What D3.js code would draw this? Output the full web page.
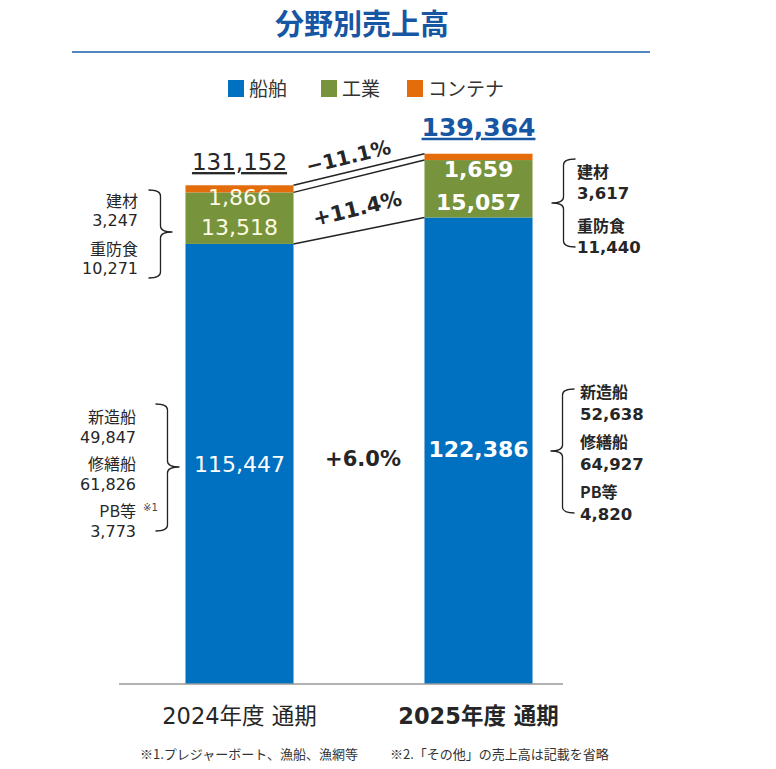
<!DOCTYPE html>
<html lang="ja">
<head>
<meta charset="utf-8">
<script src="https://d3js.org/d3.v7.min.js"></script>
<title>分野別売上高</title>
<style>
  body { margin: 0; background: #fff; }
  text { font-family: "DejaVu Sans", "Noto Sans CJK JP", sans-serif; fill: #262626; }
  .jp { font-family: "Noto Sans CJK JP", "DejaVu Sans", sans-serif; }
</style>
</head>
<body>
<svg id="chart"></svg>
<script>
// data
const years = ["2024年度 通期", "2025年度 通期"];
const series = ["船舶", "工業", "コンテナ"];
const shipSales = [115447, 122386];
const industrySales = [13518, 15057];
const containerSales = [1866, 1659];
const totals = [131152, 139364];
const shipChange = "+6.0%";
const industryChange = "+11.4%";
const containerChange = "−11.1%";
const industryParts = ["建材", "重防食"];
const industryParts2024 = [3247, 10271];
const industryParts2025 = [3617, 11440];
const shipParts = ["新造船", "修繕船", "PB等"];
const shipParts2024 = [49847, 61826, 3773];
const shipParts2025 = [52638, 64927, 4820];
const notes = ["※1.プレジャーボート、漁船、漁網等", "※2.「その他」の売上高は記載を省略"];

const colors = {"船舶": "#0070c0", "工業": "#77933c", "コンテナ": "#e46c0a"};
const fmt = d3.format(",");

const W = 776, H = 769;
const svg = d3.select("#chart").attr("width", W).attr("height", H);

const x = d3.scaleBand().domain(years).range([120, 598]).paddingInner(0.548).paddingOuter(0.274);
const y = d3.scaleLinear().domain([0, 140000]).range([684, 684 - 140000 * 0.003812]);

// stack
const rows = years.map((yr, i) => ({year: yr, "船舶": shipSales[i], "工業": industrySales[i], "コンテナ": containerSales[i]}));
const stacked = d3.stack().keys(series)(rows);

// title
svg.append("text").attr("class", "jp").attr("x", 362).attr("y", 35).attr("text-anchor", "middle")
  .style("font-size", "29px").style("font-weight", "bold").style("fill", "#1656a3").text("分野別売上高");
svg.append("line").attr("x1", 72).attr("x2", 650).attr("y1", 52).attr("y2", 52)
  .attr("stroke", "#1a5ca8").attr("stroke-width", 1.5);

// legend
const legX = [228, 321, 407];
const leg = svg.selectAll(".leg").data(series).join("g").attr("class", "leg")
  .attr("transform", (d, i) => `translate(${legX[i]},80)`);
leg.append("rect").attr("width", 16).attr("height", 17).attr("fill", d => colors[d]);
leg.append("text").attr("class", "jp").attr("x", 21).attr("y", 16).style("font-size", "19px")
  .style("fill", "#333").text(d => d);

// bars
svg.append("g").selectAll("g").data(stacked).join("g")
  .attr("fill", d => colors[d.key])
  .selectAll("rect").data(d => d).join("rect")
  .attr("x", d => x(d.data.year))
  .attr("y", d => y(d[1]))
  .attr("width", x.bandwidth())
  .attr("height", d => y(d[0]) - y(d[1]));

// baseline
svg.append("line").attr("x1", 119).attr("x2", 563).attr("y1", y(0)).attr("y2", y(0))
  .attr("stroke", "#999").attr("stroke-width", 1.5);

// connectors between bars
const xa = x(years[0]) + x.bandwidth(), xb = x(years[1]);
const levels = [stacked[2], stacked[1], stacked[0]].map(s => [y(s[0][1]), y(s[1][1])]);
svg.append("g").selectAll("line").data(levels).join("line")
  .attr("x1", xa).attr("x2", xb).attr("y1", d => d[0]).attr("y2", d => d[1])
  .attr("stroke", "#222").attr("stroke-width", 1.5);

const ang = Math.atan2(levels[0][1] - levels[0][0], xb - xa) * 180 / Math.PI;
const midX = (xa + xb) / 2;
svg.append("text").attr("transform", `translate(${midX - 9},${(levels[0][0] + levels[0][1]) / 2 - 6}) rotate(${ang})`)
  .attr("text-anchor", "middle").style("font-size", "20px").style("font-weight", "bold").text(containerChange);
svg.append("text").attr("transform", `translate(${midX},${(levels[1][0] + levels[1][1] + levels[2][0] + levels[2][1]) / 4 + 12}) rotate(${ang})`)
  .attr("text-anchor", "middle").style("font-size", "21px").style("font-weight", "bold").text(industryChange);
svg.append("text").attr("x", midX + 4).attr("y", 466).attr("text-anchor", "middle")
  .style("font-size", "21px").style("font-weight", "bold").text(shipChange);

// totals
const cx = i => x(years[i]) + x.bandwidth() / 2;
svg.append("text").attr("x", cx(0)).attr("y", y(totals[0]) - 14).attr("text-anchor", "middle")
  .style("font-size", "23px").style("text-decoration", "underline").text(fmt(totals[0]));
svg.append("text").attr("x", cx(1)).attr("y", y(totals[1]) - 17).attr("text-anchor", "middle")
  .style("font-size", "25px").style("font-weight", "bold").style("fill", "#1656a3")
  .style("text-decoration", "underline").text(fmt(totals[1]));

// in-bar labels
years.forEach((yr, i) => {
  const bold = i === 1 ? "bold" : "normal";
  const fill = i === 1 ? "#fff" : "#fdfbe3";
  const gTop = y(industrySales[i] + shipSales[i]);
  svg.append("text").attr("x", cx(i)).attr("y", gTop + (i === 1 ? 17 : 13)).attr("text-anchor", "middle")
    .style("font-size", "22px").style("font-weight", bold).style("fill", fill).text(fmt(containerSales[i]));
  svg.append("text").attr("x", cx(i)).attr("y", gTop + (i === 1 ? 50 : 43)).attr("text-anchor", "middle")
    .style("font-size", "22px").style("font-weight", bold).style("fill", fill).text(fmt(industrySales[i]));
});
svg.append("text").attr("x", cx(0)).attr("y", 472).attr("text-anchor", "middle")
  .style("font-size", "22px").style("fill", "#fff").text(fmt(shipSales[0]));
svg.append("text").attr("x", cx(1)).attr("y", 457).attr("text-anchor", "middle")
  .style("font-size", "22px").style("font-weight", "bold").style("fill", "#fff").text(fmt(shipSales[1]));

// braces
function brace(xs, y1, y2, ym, dir, hook, tip) {
  const r = 6;
  return `M${xs - dir * hook},${y1} Q${xs},${y1} ${xs},${y1 + r} L${xs},${ym - r} Q${xs},${ym} ${xs + dir * tip},${ym}`
    + ` Q${xs},${ym} ${xs},${ym + r} L${xs},${y2 - r} Q${xs},${y2} ${xs - dir * hook},${y2}`;
}
const braces = [
  [x(years[0]) - 25, 190, 278, 232, 1],
  [x(years[0]) - 18, 404, 531, 467, 1],
  [xb + x.bandwidth() + 31, 159, 247, 203, -1],
  [xb + x.bandwidth() + 30, 389, 513, 451, -1]
];
svg.append("g").selectAll("path").data(braces).join("path")
  .attr("d", d => brace(d[0], d[1], d[2], d[3], d[4], 12, 12))
  .attr("fill", "none").attr("stroke", "#222").attr("stroke-width", 1.3);

function partLabels(names, vals, x0, anchor, y0, inner, step, bold) {
  names.forEach((n, k) => {
    svg.append("text").attr("class", "jp").attr("x", x0).attr("y", y0 + k * step).attr("text-anchor", anchor)
      .style("font-size", "16px").style("font-weight", bold ? "bold" : "normal").text(n);
    svg.append("text").attr("x", x0).attr("y", y0 + k * step + inner).attr("text-anchor", anchor)
      .style("font-size", bold ? "16.5px" : "16px").style("font-weight", bold ? "bold" : "normal").text(fmt(vals[k]));
  });
}
partLabels(industryParts, industryParts2024, 138, "end", 207, 19, 48, false);
partLabels(shipParts, shipParts2024, 136, "end", 423, 20, 47, false);
partLabels(industryParts, industryParts2025, 577, "start", 178, 21, 54, true);
partLabels(shipParts, shipParts2025, 580, "start", 398, 22, 50, true);
svg.append("text").attr("x", 143).attr("y", 511).style("font-size", "10px").style("fill", "#444").text("※1");

// x labels
years.forEach((yr, i) => {
  svg.append("text").attr("x", cx(i)).attr("y", 724).attr("text-anchor", "middle")
    .style("font-size", "22.5px").style("font-weight", i === 1 ? "bold" : "normal").text(yr);
});

// footnotes
svg.selectAll(".note").data(notes).join("text").attr("class", "note jp")
  .attr("x", (d, i) => [140, 390][i]).attr("y", 759)
  .style("font-size", "13px").style("fill", "#333").text(d => d);
</script>
</body>
</html>
